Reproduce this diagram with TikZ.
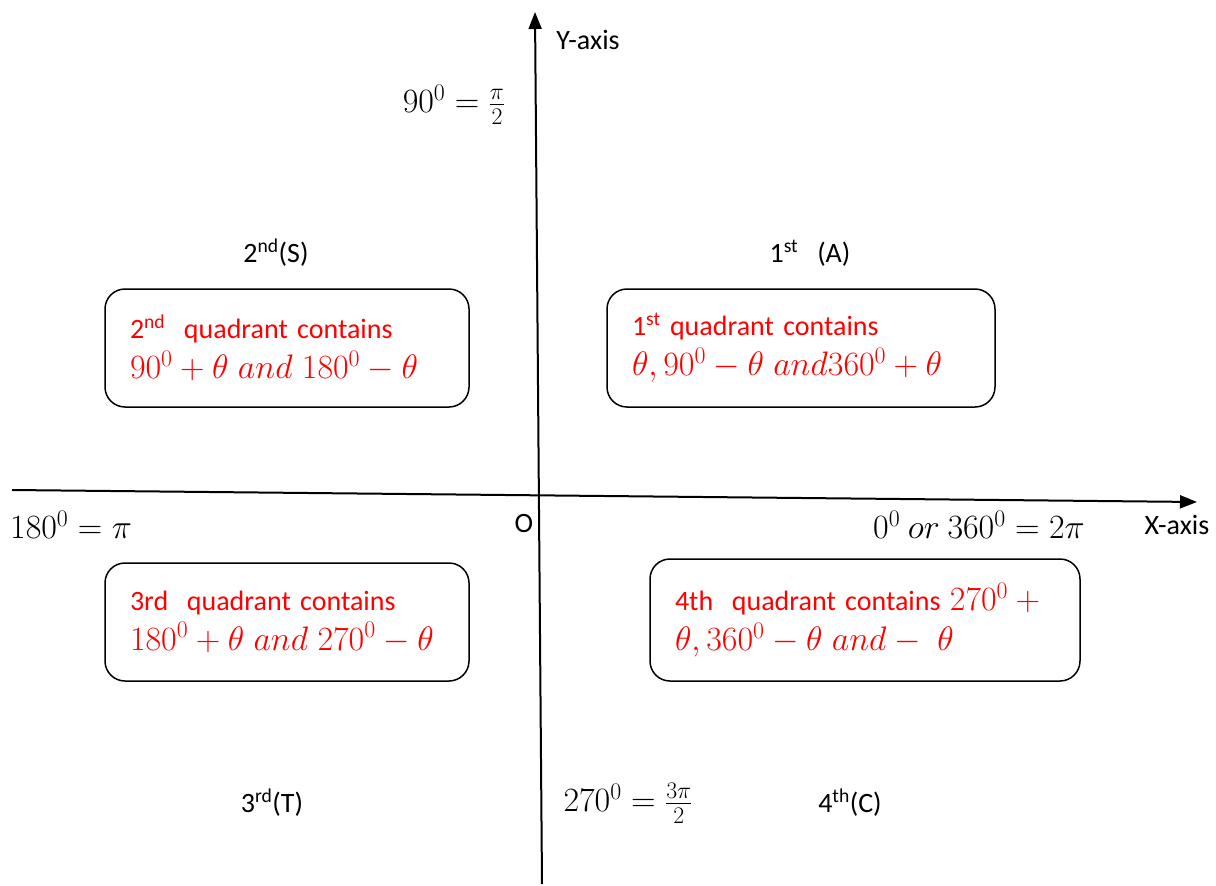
\RequirePackage{fix-cm}
\documentclass[tikz,border=0pt]{standalone}
\usepackage{fontspec}
\setmainfont{Carlito}
\usetikzlibrary{arrows.meta, positioning}
\newcommand{\eqn}[1]{{\fontsize{34}{40}\selectfont$#1$}}

\begin{document}
\begin{tikzpicture}[x=1pt, y=-1pt,
    every node/.style={font=\fontsize{28}{40}\selectfont, inner sep=0pt},
    qbox/.style={draw=black, line width=1.5pt, rounded corners=20pt, text=red, align=left,
        inner xsep=25pt, inner ysep=6pt, minimum height=118pt},
    axis/.style={line width=2pt, -{Triangle[length=17pt, width=13pt]}}]
    \useasboundingbox (0,0) rectangle (1216,886);

    % Axes
    \coordinate (xs) at (12,490);
    \coordinate (xe) at (1197,502);
    \coordinate (ys) at (542,884);
    \coordinate (ye) at (535,12);
    \draw[axis] (xs) -- (xe);
    \draw[axis] (ys) -- (ye);

    % Axis labels and angles
    \node (ylab) at (588,40) {Y-axis};
    \node (xlab) at (1177,525) {X-axis};
    \node (origin) at (524,524) {O};
    \node (p90) at (454,105) {\eqn{90^0=\frac{\pi}{2}}};
    \node[anchor=west] (p180) at (10,525) {\eqn{180^0=\pi}};
    \node (p0) at (979,525) {\eqn{0^0\ or\ 360^0=2\pi}};
    \node (p270) at (628,803) {\eqn{270^0=\frac{3\pi}{2}}};

    % Quadrant names
    \node (q1lab) at (810,253) {1\textsuperscript{st}\ \ \ (A)};
    \node (q2lab) at (276,253) {2\textsuperscript{nd}(S)};
    \node (q3lab) at (272,803) {3\textsuperscript{rd}(T)};
    \node (q4lab) at (850,803) {4\textsuperscript{th}(C)};

    % Quadrant boxes
    \node[qbox, text width=338pt] (q1) at (801,348)
        {1\textsuperscript{st} quadrant contains\\ \eqn{\theta, 90^0-\theta\ and360^0+\theta}};
    \node[qbox, text width=314pt] (q2) at (287,348)
        {2\textsuperscript{nd}\ \ quadrant contains\\ \eqn{90^0+\theta\ and\ 180^0-\theta}};
    \node[qbox, text width=314pt] (q3) at (287,622)
        {3rd\ \ quadrant contains\\ \eqn{180^0+\theta\ and\ 270^0-\theta}};
    \node[qbox, text width=380pt, minimum height=122pt] (q4) at (865,620)
        {4th\ \ quadrant contains \eqn{270^0+{}}\\ \eqn{\theta, 360^0-\theta\ and-\ \theta}};
\end{tikzpicture}
\end{document}
